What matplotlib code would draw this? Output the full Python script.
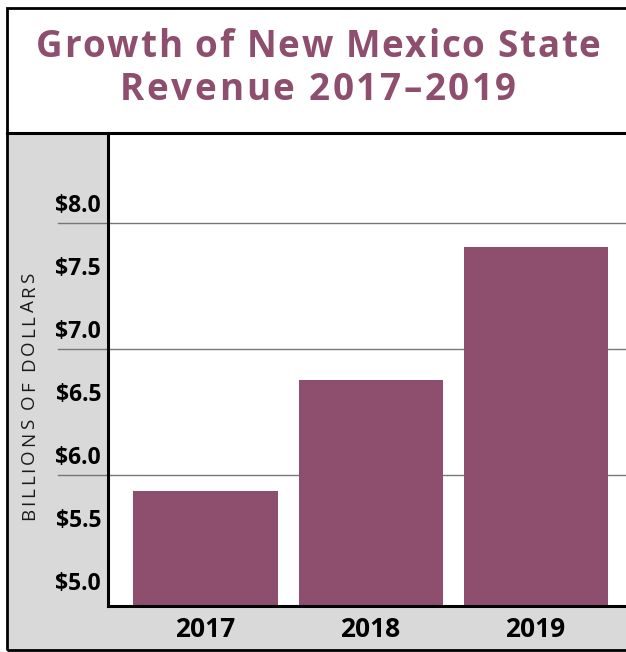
import numpy as np
import matplotlib.pyplot as plt
from matplotlib.patches import Rectangle
from matplotlib.transforms import ScaledTranslation
from matplotlib.font_manager import FontProperties

years = ['2017', '2018', '2019']
revenue = [5.87, 6.75, 7.81]  # billions of dollars
tick_vals = [5.0, 5.5, 6.0, 6.5, 7.0, 7.5, 8.0]
tick_labels = ['$5.0', '$5.5', '$6.0', '$6.5', '$7.0', '$7.5', '$8.0']
grid_vals = [6.0, 7.0, 8.0]
title_lines = ['Growth of New Mexico State', 'Revenue 2017\u20132019']
ylabel = 'BILLIONS OF DOLLARS'

W, H = 626, 652
plum = '#8e4e6d'
panel = '#d9d9d9'
FONT = ['Open Sans', 'DejaVu Sans']
plt.rcParams['font.family'] = FONT

fig = plt.figure(figsize=(W / 100, H / 100), dpi=100)
renderer = fig.canvas.get_renderer()


def fx(px):
    return px / W


def fy(py):
    return 1 - py / H


def spaced(s, x0, y0, size, track, weight='normal', color='black', vertical=False, center=True):
    # matplotlib has no letter-spacing, so lay the glyphs out one by one
    prop = FontProperties(family=FONT, size=size, weight=weight)
    widths = [renderer.get_text_width_height_descent(c, prop, ismath=False)[0] for c in s]
    total = sum(widths) + track * (len(s) - 1)
    pos = -total / 2 if center else 0
    for c, w in zip(s, widths):
        if vertical:
            fig.text(fx(x0), fy(y0 - pos), c, rotation=90, rotation_mode='anchor',
                     ha='left', va='baseline', fontproperties=prop, color=color)
        else:
            fig.text(fx(x0 + pos), fy(y0), c, ha='left', va='baseline',
                     fontproperties=prop, color=color)
        pos += w + track


# grey side and bottom panels
fig.patches.append(Rectangle((fx(7), fy(650)), fx(108 - 7), (650 - 133) / H,
                             transform=fig.transFigure, facecolor=panel, edgecolor='none', zorder=-1))
fig.patches.append(Rectangle((fx(108), fy(650)), fx(W - 108), (650 - 606) / H,
                             transform=fig.transFigure, facecolor=panel, edgecolor='none', zorder=-1))

ax = fig.add_axes([fx(108), fy(606), fx(W - 108), (606 - 133) / H])
ax.set_facecolor('white')

x = np.arange(len(years))
ax.bar(x, revenue, width=0.873, color=plum, zorder=3)

for g in grid_vals:
    ax.plot([-0.0965, 1], [g, g], transform=ax.get_yaxis_transform(), color='#777777',
            lw=1.0, clip_on=False, zorder=1)

ax.set_xlim(-0.591, 2.548)
ax.set_ylim(4.96, 8.714)
ax.set_xticks(x)
ax.set_xticklabels(years, fontsize=19, fontweight='bold')
ax.set_yticks(tick_vals)
ax.set_yticklabels(tick_labels, fontsize=16.5, fontweight='bold')
ax.tick_params(axis='both', length=0)
ax.tick_params(axis='y', pad=5)
ax.tick_params(axis='x', pad=7)
# the dollar labels sit just above their values
shift = ScaledTranslation(0, 0.195, fig.dpi_scale_trans)
for lab in ax.get_yticklabels():
    lab.set_transform(lab.get_transform() + shift)

for side in ['top', 'right']:
    ax.spines[side].set_visible(False)
for side in ['left', 'bottom']:
    ax.spines[side].set_linewidth(2.2)
    ax.spines[side].set_color('black')
    ax.spines[side].set_zorder(4)

spaced(ylabel, 34, 520, 13.5, 2.8, color='#1a1a1a', vertical=True, center=False)

# title box
spaced(title_lines[0], 318, 57, 26.5, 1.7, weight='bold', color=plum)
spaced(title_lines[1], 318, 100, 26.5, 2.6, weight='bold', color=plum)

# outer frame and title divider
fig.patches.append(Rectangle((fx(7), fy(650)), fx(700), (650 - 8) / H, transform=fig.transFigure,
                             facecolor='none', edgecolor='black', lw=2.0, zorder=5))
fig.lines.append(plt.Line2D([fx(7), 1], [fy(133), fy(133)], transform=fig.transFigure,
                            color='black', lw=2.2, zorder=5))

fig.savefig('out.png', dpi=100)
